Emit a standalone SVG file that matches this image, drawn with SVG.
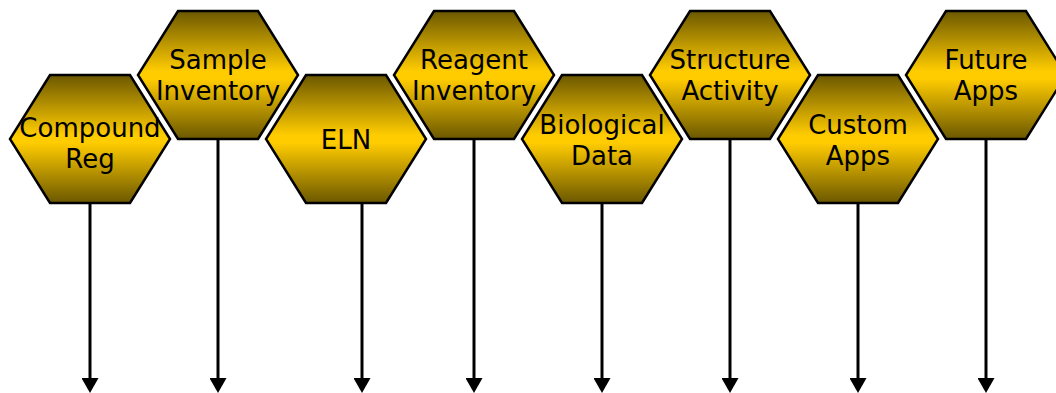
<svg xmlns="http://www.w3.org/2000/svg" width="1056" height="393" viewBox="0 0 1056 393">
<style>
.hex{stroke:#000;stroke-width:2.5;stroke-linejoin:miter;fill:url(#gold)}
.lbl{font-family:"DejaVu Sans",Verdana,sans-serif;font-size:26px;fill:#000;text-anchor:middle}
.conn{stroke:#000;stroke-width:3;fill:none;marker-end:url(#arr)}
</style>
<defs>
<linearGradient id="gold" x1="0" y1="0" x2="0" y2="1">
<stop offset="0" stop-color="#6b5700"/>
<stop offset="0.47" stop-color="#ffcc00"/>
<stop offset="0.53" stop-color="#ffcc00"/>
<stop offset="1" stop-color="#6b5700"/>
</linearGradient>
<marker id="arr" markerUnits="userSpaceOnUse" markerWidth="15" markerHeight="17" viewBox="0 0 15 17" refX="0" refY="8.5" orient="auto">
<path d="M0,0 L15,8.5 L0,17 z" fill="#000"/>
</marker>
</defs>
<g id="connectors">
<line class="conn" x1="90" y1="203" x2="90" y2="378"/>
<line class="conn" x1="218" y1="139" x2="218" y2="378"/>
<line class="conn" x1="362" y1="203" x2="362" y2="378"/>
<line class="conn" x1="474" y1="139" x2="474" y2="378"/>
<line class="conn" x1="602" y1="203" x2="602" y2="378"/>
<line class="conn" x1="730" y1="139" x2="730" y2="378"/>
<line class="conn" x1="858" y1="203" x2="858" y2="378"/>
<line class="conn" x1="986" y1="139" x2="986" y2="378"/>
</g>
<g id="compound-reg">
<polygon class="hex" points="50,75 130,75 170,139 130,203 50,203 10,139"/>
<text class="lbl" x="90" y="137">Compound</text>
<text class="lbl" x="90" y="168">Reg</text>
</g>
<g id="sample-inventory">
<polygon class="hex" points="178,11 258,11 298,75 258,139 178,139 138,75"/>
<text class="lbl" x="218" y="69">Sample</text>
<text class="lbl" x="218" y="100">Inventory</text>
</g>
<g id="eln">
<polygon class="hex" points="306,75 386,75 426,139 386,203 306,203 266,139"/>
<text class="lbl" x="346" y="149">ELN</text>
</g>
<g id="reagent-inventory">
<polygon class="hex" points="434,11 514,11 554,75 514,139 434,139 394,75"/>
<text class="lbl" x="474" y="69">Reagent</text>
<text class="lbl" x="474" y="100">Inventory</text>
</g>
<g id="biological-data">
<polygon class="hex" points="562,75 642,75 682,139 642,203 562,203 522,139"/>
<text class="lbl" x="602" y="134">Biological</text>
<text class="lbl" x="602" y="165">Data</text>
</g>
<g id="structure-activity">
<polygon class="hex" points="690,11 770,11 810,75 770,139 690,139 650,75"/>
<text class="lbl" x="730" y="69">Structure</text>
<text class="lbl" x="730" y="100">Activity</text>
</g>
<g id="custom-apps">
<polygon class="hex" points="818,75 898,75 938,139 898,203 818,203 778,139"/>
<text class="lbl" x="858" y="134">Custom</text>
<text class="lbl" x="858" y="165">Apps</text>
</g>
<g id="future-apps">
<polygon class="hex" points="946,11 1026,11 1066,75 1026,139 946,139 906,75"/>
<text class="lbl" x="986" y="69">Future</text>
<text class="lbl" x="986" y="100">Apps</text>
</g>
</svg>
